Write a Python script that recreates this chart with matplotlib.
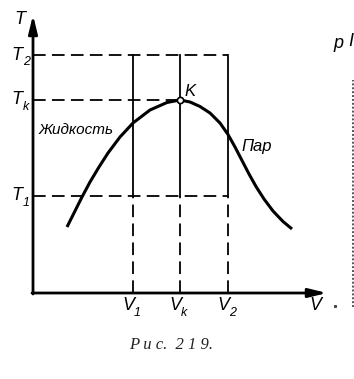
import matplotlib
matplotlib.use("Agg")
import matplotlib.pyplot as plt

# ---- data (abstract units of the diagram) ----
V1, Vk, V2 = 100, 147, 195
T1, Tk, T2 = 97, 193, 238
V_max, T_max = 294, 278

curve_V = [34, 41, 49, 57, 66, 75, 87, 100, 117, 134, 147,
           157, 167, 177, 187, 195, 202, 209, 216, 223, 231, 240, 250, 259]
curve_T = [66, 80, 96, 111, 126, 140, 156, 170, 183, 190.5, 193,
           191, 186.5, 180, 170, 158.5, 146, 132.5, 119, 106.5, 94, 82, 71.5, 64]

tick_T = [("T", "2", T2), ("T", "k", Tk), ("T", "1", T1)]
tick_V = [("V", "1", V1), ("V", "k", Vk), ("V", "2", V2)]

W, H = 354, 379
fig = plt.figure(figsize=(W / 100, H / 100), dpi=100)
ax = fig.add_axes([0, 0, 1, 1])
ax.set_xlim(-33, W - 33)
ax.set_ylim(293 - H, 293)
ax.axis("off")

lab = dict(family=["Liberation Sans Narrow", "Liberation Sans", "DejaVu Sans"],
           style="italic", color="black")
dash = dict(color="black", lw=1.3, dashes=(7, 3.5))
thin = dict(color="black", lw=1.3)

# axes with arrows
ax.annotate("", xy=(0, T_max), xytext=(0, -1),
            arrowprops=dict(arrowstyle="-|>,head_length=0.9,head_width=0.22",
                            lw=2.0, color="black", mutation_scale=12, shrinkA=0, shrinkB=0))
ax.annotate("", xy=(V_max, 0), xytext=(-1, 0),
            arrowprops=dict(arrowstyle="-|>,head_length=0.9,head_width=0.22",
                            lw=2.0, color="black", mutation_scale=12, shrinkA=0, shrinkB=0))

# dashed horizontals
ax.plot([0, V2], [T2, T2], **dash)
ax.plot([0, Vk], [Tk, Tk], **dash)
ax.plot([0, V2], [T1, T1], **dash)
# verticals: solid between T1 and T2, dashed below T1
for v in (V1, Vk, V2):
    ax.plot([v, v], [T1, T2], **thin)
    ax.plot([v, v], [0, T1], **dash)

# curve
ax.plot(curve_V, curve_T, color="black", lw=2.2, solid_capstyle="butt", solid_joinstyle="round")
# critical point
ax.plot([Vk], [Tk], marker="o", ms=4.5, mfc="white", mec="black", mew=1.2, zorder=5)

# labels
ax.text(-13, 273, "T", fontsize=13, ha="center", va="center", **lab)
for base, sub, t in tick_T:
    ax.text(-11, t, base, fontsize=13, ha="right", va="center", **lab)
    ax.text(-10, t - 7, sub, fontsize=9, ha="left", va="center", **lab)
for base, sub, v in tick_V:
    ax.text(v + 1, -12, base, fontsize=13, ha="right", va="center", **lab)
    ax.text(v + 1, -20, sub, fontsize=9, ha="left", va="center", **lab)
ax.text(282, -12, "V", fontsize=13, ha="center", va="center", **lab)
ax.text(Vk + 10, Tk + 8, "K", fontsize=12, ha="center", va="center", **lab)
ax.text(43, 163, "Жидкость", fontsize=11, ha="center", va="center", **lab)
ax.text(224, 147, "Пар", fontsize=12, ha="center", va="center", **lab)
ax.text(138, -52, "Р u c.  2 1 9.", fontsize=12, ha="center", va="center",
        family=["Liberation Serif", "DejaVu Serif"], style="italic", color="#222222")

# fragment of neighbouring figure
ax.text(305, 250, "p", fontsize=13, ha="center", va="center", **lab)
ax.text(318, 251, "I", fontsize=13, ha="center", va="center", **lab)
ax.plot([320, 320], [-14, 213], color="#555555", lw=1.4, dashes=(1, 1))
ax.plot([302], [-13], marker="s", ms=1.2, color="#444444")

fig.savefig("out.png", dpi=100)
